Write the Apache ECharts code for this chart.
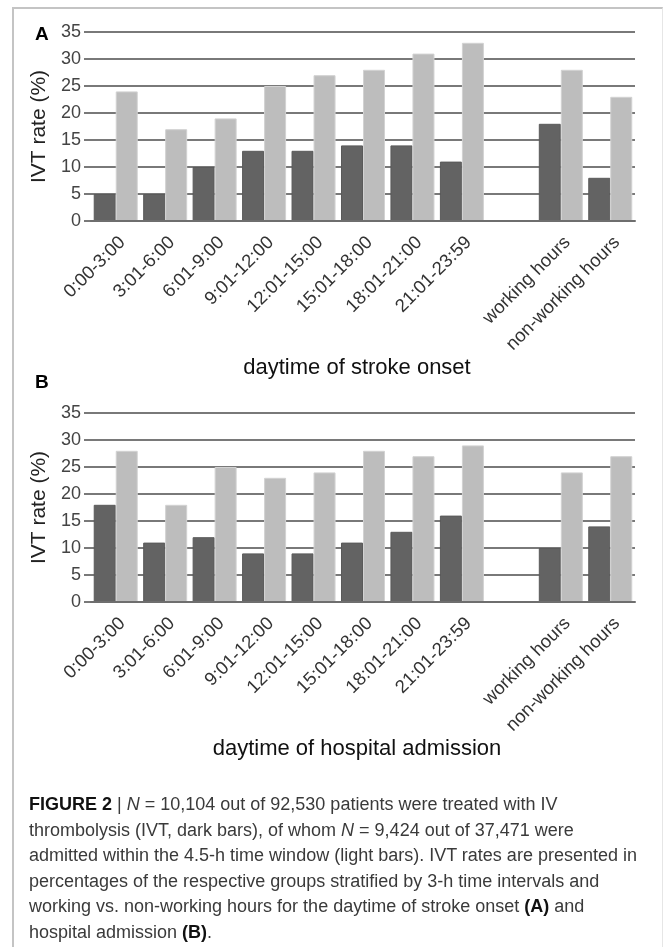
<!DOCTYPE html>
<html>
<head>
<meta charset="utf-8">
<script src="https://cdn.jsdelivr.net/npm/echarts@6/dist/echarts.min.js"></script>
<style>
  html, body { margin: 0; padding: 0; background: #fff; }
  #wrap { position: relative; width: 663px; height: 947px; overflow: hidden; }
  #chart { position: absolute; left: 0; top: 0; width: 663px; height: 947px; }
  #frame { position: absolute; left: 12px; top: 7px; width: 648px; height: 960px;
           border-top: 2px solid #c4c4c4; border-left: 2px solid #c4c4c4; border-right: 1px solid #e6e6e6; }
  #caption { position: absolute; left: 29px; top: 792px; width: 640px;
             font-family: "Liberation Sans", Arial, sans-serif; font-size: 18px; line-height: 25.6px;
             color: #3a3a3a; white-space: nowrap; }
  #caption b { color: #111; }
</style>
</head>
<body>
<div id="wrap">
  <div id="chart"></div>
  <div id="frame"></div>
  <div id="caption">
    <div><b>FIGURE 2</b> | <i>N</i> = 10,104 out of 92,530 patients were treated with IV</div>
    <div>thrombolysis (IVT, dark bars), of whom <i>N</i> = 9,424 out of 37,471 were</div>
    <div>admitted within the 4.5-h time window (light bars). IVT rates are presented in</div>
    <div>percentages of the respective groups stratified by 3-h time intervals and</div>
    <div>working vs. non-working hours for the daytime of stroke onset <b>(A)</b> and</div>
    <div>hospital admission <b>(B)</b>.</div>
  </div>
</div>
<script>
// ---- data ----
const categories = ['0:00-3:00', '3:01-6:00', '6:01-9:00', '9:01-12:00', '12:01-15:00',
  '15:01-18:00', '18:01-21:00', '21:01-23:59', '', 'working hours', 'non-working hours'];
const onsetIVT = [5, 5, 10, 13, 13, 14, 14, 11, null, 18, 8];
const onsetWindow = [24, 17, 19, 25, 27, 28, 31, 33, null, 28, 23];
const admissionIVT = [18, 11, 12, 9, 9, 11, 13, 16, null, 10, 14];
const admissionWindow = [28, 18, 25, 23, 24, 28, 27, 29, null, 24, 27];
const yMin = 0, yMax = 35, yInterval = 5;
const axisTitles = ['daytime of stroke onset', 'daytime of hospital admission'];
const yAxisTitle = 'IVT rate (%)';
const panelLabels = ['A', 'B'];

const FONT = '"Liberation Sans", Arial, sans-serif';
const DARK = '#636363', LIGHT = '#bdbdbd', GRIDC = '#4d4d4d';

const chart = echarts.init(document.getElementById('chart'), null, { renderer: 'canvas' });

const gridTops = [32, 413];
const grids = gridTops.map(t => ({ left: 91, right: 28, top: t, height: 189, containLabel: false }));

const xAxes = [0, 1].map(i => ({
  type: 'category', gridIndex: i, data: categories,
  axisLine: { show: true, lineStyle: { color: '#6e6e6e', width: 2 } },
  axisTick: { show: false },
  axisLabel: { interval: 0, rotate: 45, margin: 12, verticalAlign: 'top',
               color: '#333', fontSize: 18.5, fontFamily: FONT },
  name: axisTitles[i], nameLocation: 'middle', nameGap: 134,
  nameTextStyle: { color: '#111', fontSize: 22, fontFamily: FONT, padding: [0, 12, 0, 0] },
  z: 5
}));

const yAxes = [0, 1].map(i => ({
  type: 'value', gridIndex: i, min: yMin, max: yMax, interval: yInterval,
  axisLine: { show: false },
  axisTick: { show: true, length: 7, lineStyle: { color: GRIDC, width: 1.5 } },
  splitLine: { show: true, lineStyle: { color: GRIDC, width: 1.5 } },
  axisLabel: { margin: 10, color: '#444', fontSize: 18, fontFamily: FONT },
  name: yAxisTitle, nameLocation: 'middle', nameGap: 30, nameRotate: 90,
  nameTextStyle: { color: '#222', fontSize: 21, fontFamily: FONT }
}));

function bars(data, color, idx, border) {
  return {
    type: 'bar', xAxisIndex: idx, yAxisIndex: idx, data: data,
    barGap: '0%', barCategoryGap: '11%',
    itemStyle: { color: color, borderColor: border, borderWidth: 1 },
    z: 3
  };
}

chart.setOption({
  animation: false,
  backgroundColor: 'transparent',
  grid: grids,
  xAxis: xAxes,
  yAxis: yAxes,
  series: [
    bars(onsetIVT, DARK, 0, '#5a5a5a'),
    bars(onsetWindow, LIGHT, 0, '#d2d2d2'),
    bars(admissionIVT, DARK, 1, '#5a5a5a'),
    bars(admissionWindow, LIGHT, 1, '#d2d2d2')
  ],
  graphic: [
    { type: 'text', left: 35, top: 25, style: { text: panelLabels[0], font: 'bold 19px ' + FONT, fill: '#000' } },
    { type: 'text', left: 35, top: 373, style: { text: panelLabels[1], font: 'bold 19px ' + FONT, fill: '#000' } }
  ]
});
</script>
</body>
</html>
